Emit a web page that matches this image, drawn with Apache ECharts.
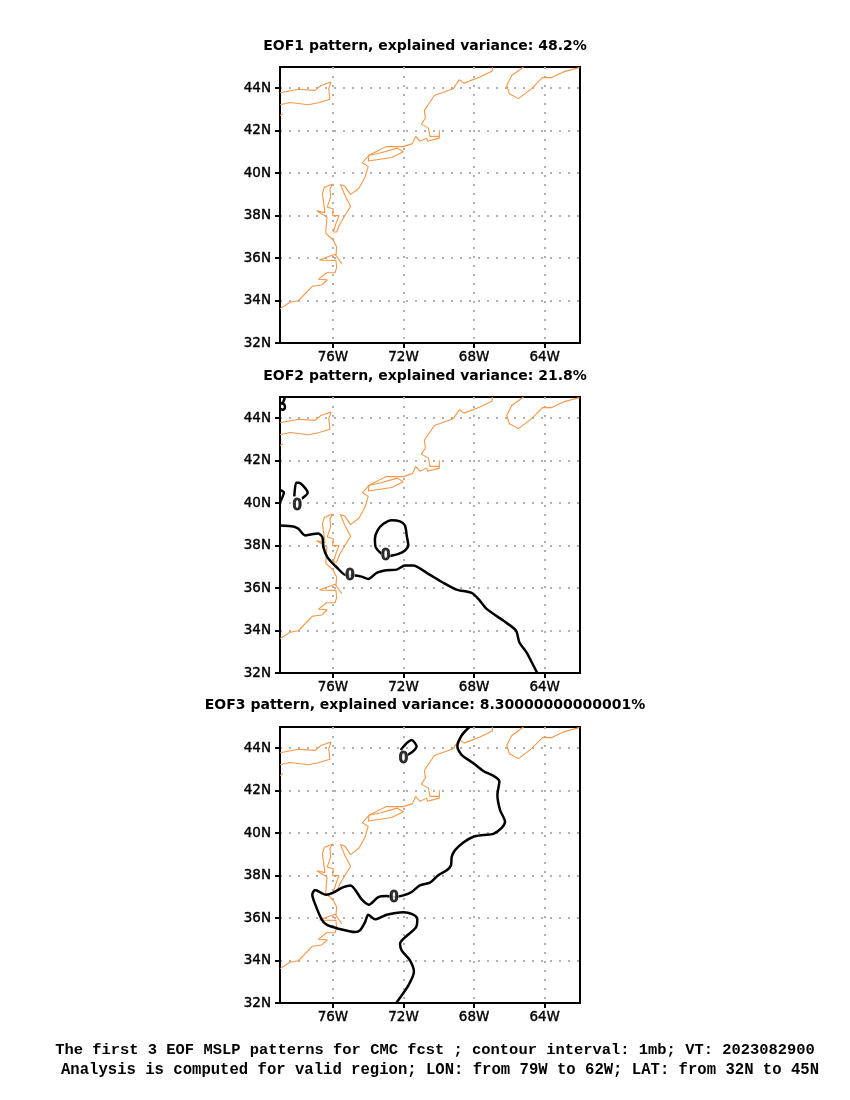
<!DOCTYPE html>
<html><head><meta charset="utf-8">
<style>html,body{margin:0;padding:0;background:#fff}#c{width:850px;height:1100px}</style>
<script src="https://cdn.jsdelivr.net/npm/echarts@6/dist/echarts.min.js"></script>
</head><body><div id="c"></div>
<script>
const lonTicks=[-76,-72,-68,-64];
const latTicks=[32,34,36,38,40,42,44];
const titles=['EOF1 pattern, explained variance: 48.2%','EOF2 pattern, explained variance: 21.8%','EOF3 pattern, explained variance: 8.30000000000001%'];
const footer1='The first 3 EOF MSLP patterns for CMC fcst ; contour interval: 1mb; VT: 2023082900';
const footer2='Analysis is computed for valid region; LON: from 79W to 62W; LAT: from 32N to 45N';

const coastSouth=[[-79,33.62],[-78.43,33.92],[-77.96,33.99],[-77.17,34.67],[-76.64,34.73],[-76.32,34.98],[-76.83,35.0],[-76.36,35.31],[-75.88,35.31],[-75.79,35.55],[-75.83,35.89],[-76.77,35.91],[-76.32,36.05],[-75.88,36.18],[-75.5,35.74]];
const coastNorth=[[-75.83,36.11],[-75.79,36.52],[-75.98,36.84],[-76.41,37.18],[-76.34,37.93],[-76.92,38.23],[-76.45,38.14],[-76.6,39.03],[-76.49,39.32],[-76.02,39.49],[-76.17,39.27],[-76.13,38.88],[-76.32,38.41],[-75.98,38.31],[-76.02,38.0],[-75.66,38.0],[-75.83,37.62],[-75.98,37.23],[-75.79,37.23],[-75.6,37.62],[-75.0,38.44],[-75.32,38.95],[-75.58,39.47],[-75.32,39.38],[-75.0,38.99],[-74.52,39.3],[-74.18,39.82],[-74.0,40.32],[-74.33,40.49],[-73.96,40.84],[-72.99,41.25],[-72.01,41.25],[-71.5,41.39],[-71.31,41.73],[-71.07,41.5],[-70.69,41.65],[-70.63,41.5],[-69.97,41.65],[-69.97,42.02],[-69.97,41.73],[-70.5,41.73],[-70.59,42.12],[-70.99,42.31],[-70.76,42.6],[-70.82,42.96],[-70.25,43.66],[-69.18,43.98],[-68.84,44.4],[-68.57,44.24],[-67.67,44.53],[-66.97,44.81],[-66.97,45.0]];
const longIsland=[[-73.96,40.84],[-73.99,40.57],[-72.67,40.74],[-72.01,41.01],[-72.35,41.18],[-73.33,40.95],[-73.96,40.84]];
const novaScotia=[[-65.2,45],[-65.87,44.6],[-66.15,44.13],[-66.0,43.74],[-65.49,43.51],[-64.74,43.98],[-64.13,44.5],[-63.6,44.5],[-62.94,44.77],[-62.03,44.97]];
const lakeOntario=[[-79,43.79],[-77.96,43.95],[-77.02,43.9],[-76.68,44.13],[-76.11,44.29],[-76.24,43.98],[-76.17,43.48],[-76.83,43.32],[-77.39,43.22],[-78.43,43.33],[-79,43.22]];
const lakeErie=[[-79,42.72],[-78.83,42.8]];

const eof2Main=[[-79,38.95],[-78.24,38.9],[-77.96,38.79],[-77.58,38.48],[-77.2,38.54],[-76.83,38.57],[-76.6,38.4],[-76.54,37.93],[-76.32,37.46],[-75.79,36.98],[-75.22,36.59],[-74.75,36.59],[-74.38,36.54],[-74,36.43],[-73.52,36.72],[-72.95,36.84],[-72.39,36.87],[-71.92,37.06],[-71.45,37.06],[-70.69,36.72],[-69.75,36.25],[-69,35.93],[-68.14,35.77],[-67.76,35.49],[-67.29,35.02],[-66.35,34.47],[-65.63,34.0],[-65.44,33.45],[-65.03,32.97],[-64.46,32.06],[-64.4,32]];
const eof2Loop=[[-72.82,37.5],[-72.29,37.61],[-71.92,37.77],[-71.73,38.0],[-71.82,38.48],[-71.92,38.95],[-72.2,39.14],[-72.67,39.2],[-73.14,39.03],[-73.48,38.71],[-73.62,38.32],[-73.58,37.93],[-73.24,37.61]];
const eof2Small=[[-78.19,40.32],[-78.09,40.96],[-77.94,40.96],[-77.43,40.49],[-77.77,40.21]];
const eof2Edge=[[-79,40.05],[-78.78,40.5],[-79,40.62]];
const eof2Corner=[[-78.72,45],[-78.85,44.72],[-78.98,44.72],[-78.76,44.65],[-78.72,44.48],[-78.85,44.4],[-79,44.45]];
const eof2Labels=[[-75.03,36.59],[-73.01,37.53],[-78.02,39.92]];

const eof3Main=[[-68.27,45],[-68.71,44.6],[-68.95,44.08],[-68.71,43.69],[-68.04,43.29],[-67.48,42.93],[-66.82,42.66],[-66.57,42.43],[-66.68,41.8],[-66.53,41.09],[-66.25,40.54],[-66.44,40.25],[-66.91,39.97],[-67.48,39.91],[-68.04,39.83],[-68.61,39.56],[-69.08,39.2],[-69.27,38.88],[-69.31,38.49],[-69.55,38.25],[-70.03,38.02],[-70.5,37.67],[-71.07,37.54],[-71.54,37.23],[-72.01,37.07],[-72.54,36.99],[-72.96,37.04],[-73.43,36.99],[-73.96,36.63],[-74.37,36.88],[-75,37.54],[-75.41,37.46],[-75.98,37.2],[-76.39,37.1],[-77.02,37.32],[-77.17,37.1],[-77.02,36.68],[-76.64,35.94],[-76.36,35.69],[-75.69,35.5],[-74.75,35.34],[-74.47,35.42],[-74.18,35.81],[-74,36.16],[-73.62,35.94],[-72.96,36.16],[-72.01,36.28],[-71.54,36.2],[-71.22,35.97],[-71.29,35.57],[-72.01,35.02],[-72.2,34.79],[-72.1,34.47],[-71.63,34],[-71.41,33.48],[-71.73,32.82],[-72.39,32.03],[-72.43,32]];
const eof3Small=[[-72.16,43.92],[-71.82,44.24],[-71.54,44.39],[-71.26,44.08],[-71.48,43.84],[-71.78,43.68]];
const eof3Labels=[[-72.54,36.99],[-72.01,43.53]];

const coasts=[coastSouth,coastNorth,longIsland,novaScotia,lakeOntario,lakeErie];
const contours=[[],[eof2Main,eof2Loop,eof2Small,eof2Edge,eof2Corner],[eof3Main,eof3Small]];
const labels=[[],eof2Labels,eof3Labels];
const tops=[67,397,727];
const titleY=[46,376,705];
const sans='"DejaVu Sans"';
const serif='"Liberation Mono"';

const series=[];
tops.forEach((t,i)=>{
  coasts.forEach(c=>series.push({type:'line',xAxisIndex:i,yAxisIndex:i,data:c,showSymbol:false,symbol:'none',silent:true,z:3,
    lineStyle:{color:'#f79646',width:1.1}}));
  contours[i].forEach(c=>series.push({type:'line',xAxisIndex:i,yAxisIndex:i,data:c,showSymbol:false,symbol:'none',silent:true,z:4,smooth:0.25,
    lineStyle:{color:'#000',width:2.5}}));
  if(labels[i].length) series.push({type:'scatter',xAxisIndex:i,yAxisIndex:i,data:labels[i],symbolSize:1,silent:true,z:5,
    itemStyle:{color:'transparent'},
    label:{show:true,position:'inside',formatter:'0',color:'#000',fontFamily:'"Liberation Sans"',fontWeight:'bold',fontSize:17,textBorderColor:'#000',textBorderWidth:0.8,backgroundColor:'#fff',padding:[-1,0,-1,0]}});
});

const chart=echarts.init(document.getElementById('c'),null,{renderer:'canvas'});
chart.setOption({
  animation:false,
  backgroundColor:'#fff',
  title:[
    ...titles.map((s,i)=>({text:s,left:425,top:titleY[i],textAlign:'center',textVerticalAlign:'middle',padding:0,
      textStyle:{fontFamily:sans,fontWeight:'bold',fontSize:14,color:'#000'}})),
    {text:footer1,left:435,top:1050,textAlign:'center',textVerticalAlign:'middle',padding:0,textStyle:{fontFamily:serif,fontWeight:'bold',fontSize:15.45,color:'#000'}},
    {text:footer2,left:440,top:1070,textAlign:'center',textVerticalAlign:'middle',padding:0,textStyle:{fontFamily:serif,fontWeight:'bold',fontSize:15.6,color:'#000'}}
  ],
  grid:tops.map(t=>({left:280,top:t,width:300,height:276,show:true,borderColor:'#000',borderWidth:2,backgroundColor:'transparent'})),
  xAxis:tops.map((t,i)=>({type:'value',gridIndex:i,min:-79,max:-62,interval:1,
    axisLine:{show:true,onZero:false,lineStyle:{color:'#000',width:2}},
    axisTick:{show:true,length:5,customValues:lonTicks,lineStyle:{color:'#000',width:2}},
    axisLabel:{show:true,customValues:lonTicks,margin:7,color:'#000',fontFamily:sans,fontSize:13.5,textBorderColor:'#000',textBorderWidth:0.4,formatter:v=>(-v)+'W'},
    splitLine:{show:true,lineStyle:{color:'#b0b0b0',width:2,type:[2,7]}}})),
  yAxis:tops.map((t,i)=>({type:'value',gridIndex:i,min:32,max:45,interval:1,
    axisLine:{show:true,onZero:false,lineStyle:{color:'#000',width:2}},
    axisTick:{show:true,length:5,customValues:latTicks,lineStyle:{color:'#000',width:2}},
    axisLabel:{show:true,customValues:latTicks,margin:9,padding:[2,0,0,0],color:'#000',fontFamily:sans,fontSize:13.5,textBorderColor:'#000',textBorderWidth:0.4,formatter:v=>v+'N'},
    splitLine:{show:true,lineStyle:{color:'#b0b0b0',width:2,type:[2,7]}}})),
  series
});
</script></body></html>
